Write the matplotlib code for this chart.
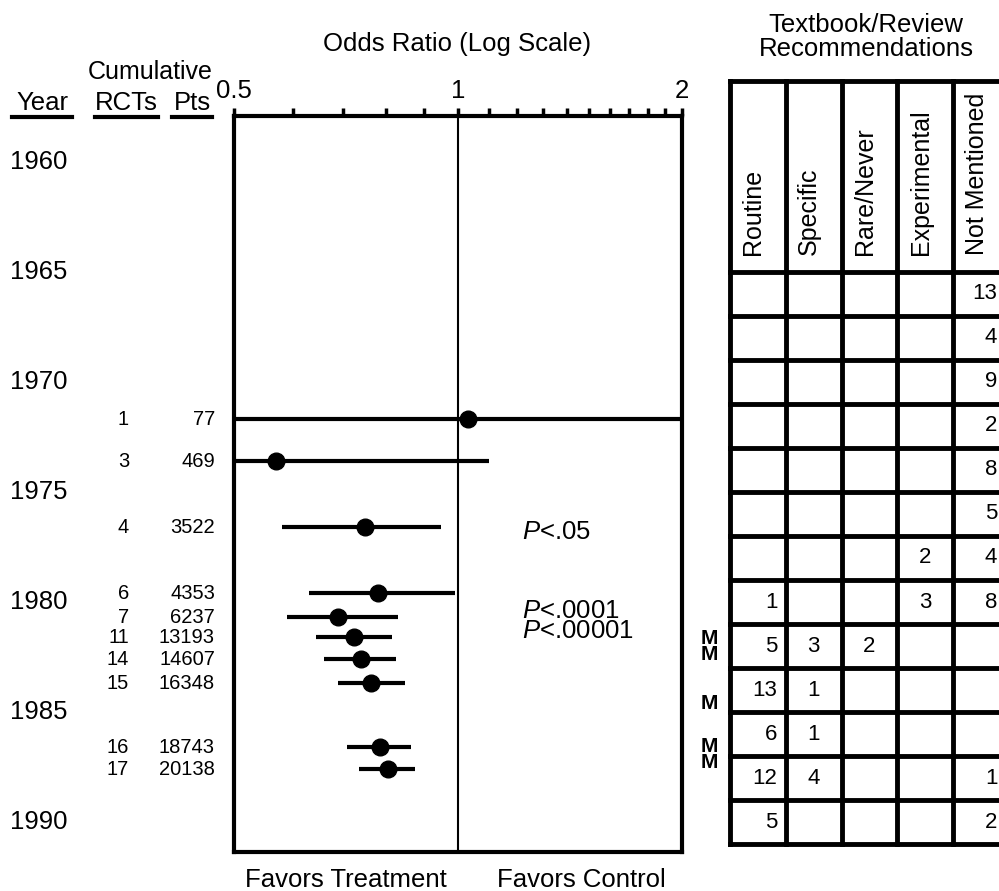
import matplotlib
matplotlib.use("Agg")
import matplotlib.pyplot as plt
from matplotlib import transforms
from matplotlib.lines import Line2D
from matplotlib.ticker import NullFormatter

plt.rcParams["font.family"] = ["Liberation Sans", "DejaVu Sans"]
plt.rcParams["mathtext.fontset"] = "custom"
plt.rcParams["mathtext.it"] = "Liberation Sans:italic"
plt.rcParams["mathtext.rm"] = "Liberation Sans"

# cumulative meta-analysis (year position, trials, patients, odds ratio + CI)
row_year = [1971.7, 1973.6, 1976.6, 1979.6, 1980.7, 1981.6, 1982.6, 1983.7, 1986.6, 1987.6]
rcts = [1, 3, 4, 6, 7, 11, 14, 15, 16, 17]
pts = [77, 469, 3522, 4353, 6237, 13193, 14607, 16348, 18743, 20138]
odds = [1.03, 0.57, 0.75, 0.78, 0.69, 0.725, 0.74, 0.765, 0.785, 0.805]
ci_lo = [0.3, 0.4, 0.58, 0.63, 0.59, 0.645, 0.66, 0.69, 0.71, 0.735]
ci_hi = [3.5, 1.10, 0.95, 0.99, 0.83, 0.815, 0.825, 0.85, 0.865, 0.875]

year_ticks = [1960, 1965, 1970, 1975, 1980, 1985, 1990]
p_labels = ["<.05", "<.0001", "<.00001"]
p_years = [1976.8, 1980.4, 1981.3]
m_years = [1981.6, 1982.4, 1984.6, 1986.6, 1987.3]

# textbook / review recommendations, one row per 2-year period
period_start = [1965, 1967, 1969, 1971, 1973, 1975, 1977, 1979, 1981, 1983, 1985, 1987, 1989]
categories = ["Routine", "Specific", "Rare/Never", "Experimental", "Not Mentioned"]
routine = [0, 0, 0, 0, 0, 0, 0, 1, 5, 13, 6, 12, 5]
specific = [0, 0, 0, 0, 0, 0, 0, 0, 3, 1, 1, 4, 0]
rare = [0, 0, 0, 0, 0, 0, 0, 0, 2, 0, 0, 0, 0]
experimental = [0, 0, 0, 0, 0, 0, 2, 3, 0, 0, 0, 0, 0]
not_mentioned = [13, 4, 9, 2, 8, 5, 4, 8, 0, 0, 0, 1, 2]

W, H = 999, 891
fig = plt.figure(figsize=(W / 100, H / 100), dpi=100)


def fx(px):
    return px / W


def fy(py):
    return 1 - py / H


def year_at(py):
    return 1960 + (py - 162) / 22


# stack labels that sit less than a year apart into one multi-line text
def group_close(years, labels):
    groups = []
    for y, lab in zip(years, labels):
        if groups and y - groups[-1][0][-1] < 1:
            groups[-1][0].append(y)
            groups[-1][1].append(lab)
        else:
            groups.append(([y], [lab]))
    return [(sum(ys) / len(ys), "\n".join(ls)) for ys, ls in groups]


# forest plot
ax = fig.add_axes([fx(234), fy(852), fx(682 - 234), (852 - 116) / H])
ax.set_xscale("log")
ax.set_xlim(0.5, 2)
ax.set_ylim(year_at(852), year_at(116))
for s in ax.spines.values():
    s.set_linewidth(3)
ax.xaxis.tick_top()
ax.set_xticks([0.5, 1, 2])
ax.set_xticklabels(["0.5", "1", "2"])
ax.set_xticks([0.6, 0.7, 0.8, 0.9, 1.1, 1.2, 1.3, 1.4, 1.5, 1.6, 1.7, 1.8, 1.9], minor=True)
ax.xaxis.set_minor_formatter(NullFormatter())
ax.tick_params(axis="x", which="both", direction="out", length=6, width=2.5,
               labelsize=18.5, pad=3)
ax.set_yticks([])
ax.axvline(1, color="black", lw=1.5)

for y, o, lo, hi in zip(row_year, odds, ci_lo, ci_hi):
    ax.plot([lo, hi], [y, y], color="black", lw=3, solid_capstyle="butt")
    ax.plot(o, y, "o", color="black", markersize=12)

for y, txt in group_close(p_years, ["$P$" + lab for lab in p_labels]):
    ax.text(1.22, y, txt, fontsize=18.5, ha="left", va="center", linespacing=0.78)

blend = transforms.blended_transform_factory(fig.transFigure, ax.transData)

for yr in year_ticks:
    fig.text(fx(10), yr, str(yr), transform=blend, fontsize=18.5, ha="left", va="center")
for y, r, p in zip(row_year, rcts, pts):
    fig.text(fx(129), y, str(r), transform=blend, fontsize=14.5, ha="right", va="center")
    fig.text(fx(215), y, str(p), transform=blend, fontsize=14.5, ha="right", va="center")
for y, txt in group_close(m_years, ["M"] * len(m_years)):
    fig.text(fx(709), y, txt, transform=blend, fontsize=15, fontweight="bold",
             ha="center", va="center", linespacing=0.8)

# headers
fig.text(fx(150), fy(72), "Cumulative", fontsize=18, ha="center", va="center")
for label, cx, x0, x1 in [("Year", 42, 12, 72), ("RCTs", 126, 95, 158), ("Pts", 192, 172, 212)]:
    fig.text(fx(cx), fy(103), label, fontsize=18.5, ha="center", va="center")
    fig.add_artist(Line2D([fx(x0), fx(x1)], [fy(117), fy(117)], color="black", lw=3))
fig.text(fx(457), fy(44), "Odds Ratio (Log Scale)", fontsize=18.5, ha="center", va="center")
fig.text(fx(346), fy(880), "Favors Treatment", fontsize=18.5, ha="center", va="center")
fig.text(fx(581), fy(880), "Favors Control", fontsize=18.5, ha="center", va="center")

# recommendations table
tab = fig.add_axes([fx(730), fy(852), fx(1009 - 730), (852 - 80) / H])
tab.set_xlim(0, 5)
tab.set_ylim(year_at(852), year_at(80))
tab.axis("off")
top = year_at(81)
bottom = period_start[-1] + 2
for c in range(6):
    tab.plot([c, c], [top, bottom], color="black", lw=3.5, clip_on=False)
for y in [top] + period_start + [bottom]:
    tab.plot([0, 5], [y, y], color="black", lw=3.5, clip_on=False)
for c, name in enumerate(categories):
    tab.text(c + 0.42, year_at(255), name, rotation=90, fontsize=18,
             ha="center", va="bottom")

columns = [routine, specific, rare, experimental, not_mentioned]
for c, vals in enumerate(columns):
    for y0, v in zip(period_start, vals):
        if not v:
            continue
        if c == 0:
            tab.text(c + 0.85, y0 + 1, str(v), fontsize=16, ha="right", va="center")
        elif c == 4:
            tab.text(4.79, y0 + 1, str(v), fontsize=16, ha="right", va="center")
        else:
            tab.text(c + 0.5, y0 + 1, str(v), fontsize=16, ha="center", va="center")

fig.text(fx(866), fy(37), "Textbook/Review\nRecommendations", fontsize=18.5,
         ha="center", va="center", linespacing=1.05)

fig.savefig("out.png", dpi=100)
